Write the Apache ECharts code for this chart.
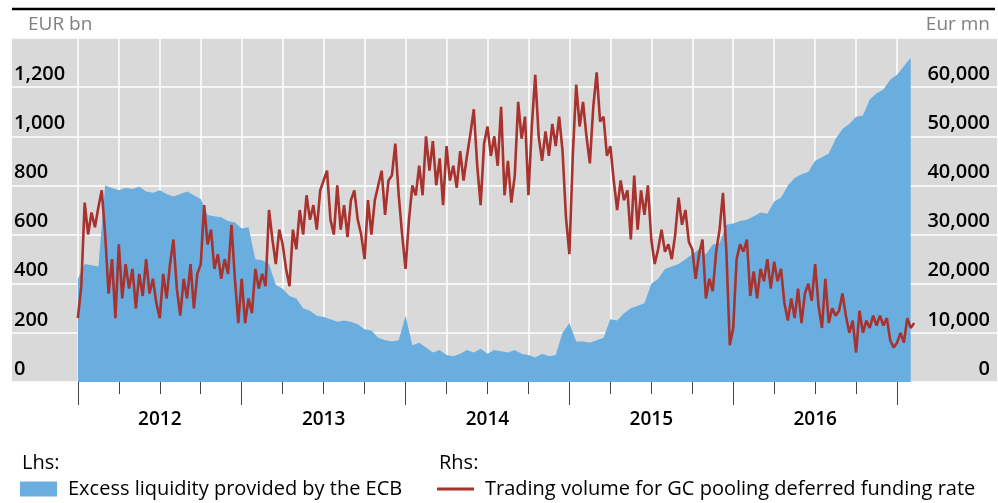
<!DOCTYPE html>
<html>
<head>
<meta charset="utf-8">
<script src="https://cdn.jsdelivr.net/npm/echarts@6/dist/echarts.min.js"></script>
<style>
  html, body { margin: 0; padding: 0; background: #fff; }
  #chart { width: 998px; height: 503px; }
</style>
</head>
<body>
<div id="chart"></div>
<script>
// observations start January 2012
const startYear = 2012
const liqPerYear = 24   // semi-monthly
const volPerYear = 48   // ~weekly

// Lhs, EUR bn
const excessLiquidity = [
  420, 480, 475, 470, 800, 790, 780, 790, 785, 795,
  775, 770, 780, 765, 755, 765, 775, 760, 745, 680,
  675, 670, 655, 650, 625, 630, 500, 495, 480, 395,
  380, 350, 340, 300, 290, 270, 265, 255, 245, 250,
  245, 235, 215, 210, 180, 170, 165, 170, 270, 150,
  160, 140, 120, 130, 110, 105, 115, 130, 120, 135,
  115, 130, 125, 120, 130, 115, 110, 100, 115, 105,
  110, 200, 240, 165, 165, 160, 170, 180, 255, 250,
  280, 300, 310, 320, 400, 420, 460, 470, 480, 500,
  520, 540, 520, 560, 565, 640, 645, 655, 660, 675,
  690, 685, 735, 750, 800, 830, 845, 855, 900, 915,
  930, 990, 1030, 1050, 1080, 1085, 1150, 1175, 1190, 1230,
  1250, 1285, 1320
]

// Rhs, Eur mn (one row per quarter)
const gcVolume = [
  13000, 19500, 36500, 30000, 34500, 31500, 35500, 39000, 30000, 18000, 25000, 13000,
  28000, 17000, 24000, 19000, 23000, 15000, 22000, 17500, 25000, 18000, 21000, 16000,
  13000, 22000, 17000, 24000, 29000, 19000, 13500, 21000, 17000, 24000, 15000, 22000,
  24000, 36000, 28000, 31000, 23000, 26000, 21000, 25000, 22000, 32000, 21000, 12000,
  21000, 12000, 17000, 14000, 23000, 19000, 22000, 19500, 35000, 29000, 24000, 31000,
  28000, 23000, 19500, 31000, 27000, 35000, 30000, 38000, 33000, 36000, 31000, 39000,
  41000, 43000, 33000, 30000, 40000, 31000, 36000, 29500, 37000, 39000, 33000, 30000,
  25000, 37000, 30000, 37000, 40000, 43000, 34000, 41000, 42000, 48500, 38000, 30000,
  23000, 33000, 40000, 38000, 44000, 38000, 50000, 43000, 49000, 40000, 45500, 36000,
  48000, 41000, 44000, 39500, 47000, 41000, 46000, 50500, 55500, 44000, 36000, 48500,
  52000, 46000, 50000, 44000, 56000, 38000, 45000, 36500, 42000, 57000, 49500, 54000,
  38000, 52000, 62500, 50000, 45000, 51000, 46000, 52500, 48000, 54000, 47000, 33500,
  26000, 46000, 60500, 52000, 57000, 50000, 44500, 56000, 63000, 53000, 54000, 46000,
  48000, 41000, 35000, 41000, 37000, 39000, 29000, 42000, 31000, 39000, 34000, 40000,
  29000, 24000, 27000, 31000, 26500, 28000, 25000, 30000, 37500, 32000, 35000, 28500,
  27000, 21000, 26000, 29000, 17000, 21000, 18500, 26500, 31000, 38500, 26500, 7500,
  11000, 25000, 28000, 26500, 29000, 17500, 22500, 17000, 23000, 20500, 25000, 19000,
  24500, 20500, 23000, 16000, 12500, 17000, 13000, 19000, 12000, 18000, 20000, 16500,
  24000, 15500, 11000, 21000, 12000, 15000, 13500, 14500, 18000, 13500, 10000, 12500,
  6000, 14500, 10000, 12500, 11000, 13500, 11500, 13500, 11500, 13000, 8500, 7000,
  8000, 10000, 8000, 13000, 11000, 12000
]

const quarterTicks = [
  2012, 2012.25, 2012.5, 2012.75, 2013, 2013.25, 2013.5, 2013.75,
  2014, 2014.25, 2014.5, 2014.75, 2015, 2015.25, 2015.5, 2015.75,
  2016, 2016.25, 2016.5, 2016.75, 2017
]
const yearTicks = [2012, 2013, 2014, 2015, 2016, 2017]
const yearLabels = [2012.5, 2013.5, 2014.5, 2015.5, 2016.5]

const liqName = 'Excess liquidity provided by the ECB'
const volName = 'Trading volume for GC pooling deferred funding rate'
const font = '"Open Sans", "Noto Sans", sans-serif'

const liqData = excessLiquidity.map((v, i) => [startYear + i / liqPerYear, v])
const volData = gcVolume.map((v, i) => [startYear + i / volPerYear, v])

const xMin = 2011.598
const xMax = 2017.61

const myChart = echarts.init(document.getElementById('chart'))
const option = {
  animation: false,
  textStyle: { fontFamily: font },
  grid: {
    left: 12, right: 1, top: 38, bottom: 121,
    show: true, backgroundColor: '#d9d9d9', borderWidth: 0
  },
  xAxis: [
    {
      type: 'value', min: xMin, max: xMax, position: 'bottom',
      axisLine: { show: false, onZero: false },
      axisTick: { show: true, customValues: quarterTicks, length: 12, lineStyle: { color: '#444', width: 1 } },
      axisLabel: { show: false },
      splitLine: { show: true, lineStyle: { color: '#fff', width: 1.5 } }
    },
    {
      type: 'value', min: xMin, max: xMax, position: 'bottom',
      axisLine: { show: false, onZero: false },
      axisTick: { show: true, customValues: yearTicks, length: 23, lineStyle: { color: '#444', width: 1 } },
      axisLabel: {
        customValues: yearLabels, margin: 28,
        formatter: v => String(Math.floor(v)),
        color: '#000', fontSize: 19, fontWeight: 600, fontFamily: font
      },
      splitLine: { show: false }
    }
  ],
  yAxis: [
    {
      type: 'value', min: 0, max: 1400, interval: 200, position: 'left',
      name: 'EUR bn', nameLocation: 'end', nameGap: 13,
      nameTextStyle: { color: '#7f7f7f', fontSize: 19, align: 'left', verticalAlign: 'middle', padding: [0, 0, 0, 16], fontFamily: font },
      axisLine: { show: false }, axisTick: { show: false },
      splitLine: { lineStyle: { color: '#fff', width: 1.5 } },
      axisLabel: {
        inside: true, margin: 2, verticalAlign: 'bottom', padding: [0, 0, 3, 0],
        formatter: v => v === 1400 ? '' : v.toLocaleString('en-US'),
        color: '#000', fontSize: 20, fontWeight: 600, fontFamily: font
      }
    },
    {
      type: 'value', min: 0, max: 70000, interval: 10000, position: 'right',
      name: 'Eur mn', nameLocation: 'end', nameGap: 13,
      nameTextStyle: { color: '#7f7f7f', fontSize: 19, align: 'right', verticalAlign: 'middle', padding: [0, 7, 0, 0], fontFamily: font },
      axisLine: { show: false }, axisTick: { show: false },
      splitLine: { show: false },
      axisLabel: {
        inside: true, margin: 7, verticalAlign: 'bottom', padding: [0, 0, 3, 0],
        formatter: v => v === 70000 ? '' : v.toLocaleString('en-US'),
        color: '#000', fontSize: 20, fontWeight: 600, fontFamily: font
      }
    }
  ],
  legend: [
    {
      data: [liqName], left: 20, top: 479, padding: 0,
      icon: 'rect', itemWidth: 37, itemHeight: 15,
      textStyle: { color: '#000', fontSize: 20, fontFamily: font, padding: [0, 0, 0, 6] }
    },
    {
      data: [volName], left: 437, top: 479, padding: 0,
      icon: 'rect', itemWidth: 37, itemHeight: 3,
      textStyle: { color: '#000', fontSize: 20, fontFamily: font, padding: [0, 0, 0, 6] }
    }
  ],
  graphic: [
    { type: 'line', shape: { x1: 12, y1: 9, x2: 995, y2: 9 }, style: { stroke: '#000', lineWidth: 2.5 } },
    { type: 'text', left: 22, top: 453, style: { text: 'Lhs:', fontSize: 20, fill: '#000', fontFamily: font } },
    { type: 'text', left: 439, top: 453, style: { text: 'Rhs:', fontSize: 20, fill: '#000', fontFamily: font } }
  ],
  series: [
    {
      name: liqName, type: 'line', xAxisIndex: 0, yAxisIndex: 0,
      data: liqData, symbol: 'none', z: 2,
      itemStyle: { color: '#6aaee0' },
      lineStyle: { width: 0 },
      areaStyle: { color: '#6aaee0', opacity: 1 }
    },
    {
      name: volName, type: 'line', xAxisIndex: 0, yAxisIndex: 1,
      data: volData, symbol: 'none', z: 3,
      itemStyle: { color: '#a8322d' },
      lineStyle: { color: '#a8322d', width: 2.6 }
    }
  ]
}
myChart.setOption(option)
</script>
</body>
</html>
